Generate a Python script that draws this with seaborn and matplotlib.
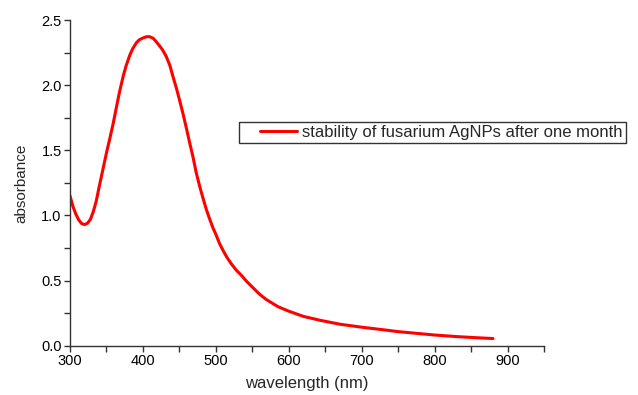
import matplotlib
matplotlib.use("Agg")
import matplotlib.pyplot as plt
from matplotlib.ticker import MultipleLocator, FormatStrFormatter
from matplotlib.legend_handler import HandlerLine2D
import numpy as np
import seaborn as sns
import pandas as pd

wavelength = [300, 304, 308, 312, 316, 320, 324, 328, 332, 336, 340, 345, 350, 355, 359, 364,
              368, 373, 377, 382, 386, 391, 395, 400, 405, 409, 414, 418, 423, 427, 432, 437,
              441, 446, 450, 455, 460, 464, 469, 473, 478, 482, 487, 491, 496, 500, 505, 510,
              515, 521, 528, 535, 542, 550, 560, 569, 585, 600, 620, 643, 670, 700, 730, 750,
              775, 800, 830, 855, 880]
absorbance = [1.15, 1.07, 1.01, 0.965, 0.937, 0.93, 0.94, 0.97, 1.03, 1.11, 1.22, 1.35, 1.48, 1.60, 1.70, 1.84,
              1.95, 2.07, 2.15, 2.23, 2.28, 2.325, 2.348, 2.362, 2.372, 2.372, 2.36, 2.335, 2.30, 2.27, 2.22, 2.15,
              2.07, 1.975, 1.89, 1.78, 1.66, 1.56, 1.44, 1.33, 1.22, 1.14, 1.045, 0.98, 0.905, 0.855, 0.785, 0.73,
              0.68, 0.63, 0.58, 0.54, 0.495, 0.45, 0.395, 0.355, 0.30, 0.265, 0.225, 0.195, 0.165, 0.142, 0.122, 0.108,
              0.095, 0.082, 0.07, 0.062, 0.055]
series_label = "stability of fusarium AgNPs after one month"
x_ticks = [300, 400, 500, 600, 700, 800, 900]

df = pd.DataFrame({"wavelength": wavelength, "absorbance": absorbance})


class PaddedLineHandler(HandlerLine2D):
    """Legend line that leaves blank space on its left, like the original."""
    def get_xdata(self, legend, xdescent, ydescent, width, height, fontsize):
        xdata = np.array([-xdescent + width * 0.32, -xdescent + width])
        return xdata, xdata


sns.set_style("ticks")
plt.rcParams['font.family'] = ['Liberation Sans', 'DejaVu Sans']

fig = plt.figure(figsize=(6.38, 3.95), dpi=100)
ax = fig.add_axes([70/638, 1 - 345.7/395, (544 - 70)/638, (345.7 - 20)/395])

sns.lineplot(data=df, x="wavelength", y="absorbance", ax=ax, color="#ff0000",
             linewidth=2.2, label=series_label, sort=False)

ax.set_xlim(300, 950)
ax.set_ylim(0, 2.5)
ax.set_xticks(x_ticks)
ax.set_xticklabels([str(t) for t in x_ticks])
ax.xaxis.set_minor_locator(MultipleLocator(50))
ax.yaxis.set_major_locator(MultipleLocator(0.5))
ax.yaxis.set_minor_locator(MultipleLocator(0.25))
ax.yaxis.set_major_formatter(FormatStrFormatter("%.1f"))

for side in ["top", "right"]:
    ax.spines[side].set_visible(False)
for side in ["left", "bottom"]:
    ax.spines[side].set_color("#333333")
    ax.spines[side].set_linewidth(1.0)

ax.tick_params(which="both", direction="out", length=4, width=1, color="#333333",
               labelsize=10.5, labelcolor="black", pad=2)

ax.set_xlabel("wavelength (nm)", fontsize=12, labelpad=6)
ax.set_ylabel("absorbance", fontsize=11, labelpad=9)

handles, labels = ax.get_legend_handles_labels()
leg = ax.legend(handles, labels, loc="upper left", bbox_to_anchor=(239/638, 1 - 121.5/395),
                bbox_transform=fig.transFigure, frameon=True, fancybox=False,
                fontsize=12, handlelength=3.3, handletextpad=0.3, borderpad=0.18,
                borderaxespad=0, handler_map={handles[0]: PaddedLineHandler()})
leg.get_frame().set_edgecolor("black")
leg.get_frame().set_linewidth(1.0)

fig.savefig("out.png", dpi=100)
